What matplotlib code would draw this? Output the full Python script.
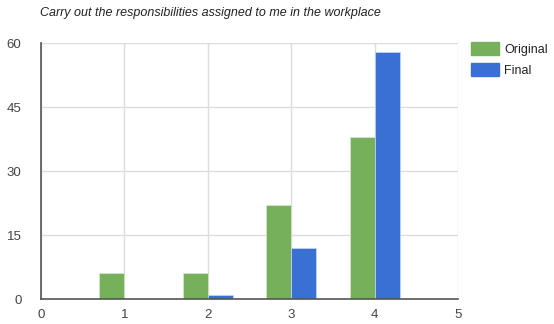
import numpy as np
import matplotlib.pyplot as plt
from matplotlib.patches import Patch

plt.rcParams['font.family'] = ['Liberation Sans', 'DejaVu Sans']

# Данные
ratings = [1, 2, 3, 4]
original = [6, 6, 22, 38]
final = [0, 1, 12, 58]
title = 'Carry out the responsibilities assigned to me in the workplace'

green = '#77b05a'
blue = '#3a70d4'

fig = plt.figure(figsize=(5.54, 3.24), dpi=100)
ax = fig.add_axes([0.074, 0.077, 0.753, 0.79])

x = np.array(ratings)
w = 0.3
ax.bar(x - w / 2, original, width=w, color=green, edgecolor='#d8ead0', linewidth=0.5, zorder=3)
ax.bar(x + w / 2, final, width=w, color=blue, edgecolor='#c8d8f4', linewidth=0.5, zorder=3)

ax.set_xlim(0, 5)
ax.set_ylim(0, 60)
ax.set_xticks([0, 1, 2, 3, 4, 5])
ax.set_yticks([0, 15, 30, 45, 60])
ax.grid(True, color='#dcdcdc', linewidth=1, zorder=0)
for s in ['top', 'right']:
    ax.spines[s].set_visible(False)
for s in ['left', 'bottom']:
    ax.spines[s].set_color('#555555')
    ax.spines[s].set_linewidth(1.2)
    ax.spines[s].set_zorder(4)
ax.tick_params(length=0, labelsize=9.5, colors='#444444', pad=7)
ax.tick_params(axis='y', pad=14)

fig.text(0.072, 0.96, title, fontsize=9, style='italic', color='#222222', va='center')

handles = [Patch(color=green, label='Original'), Patch(color=blue, label='Final')]
fig.legend(handles=handles, loc='upper left', bbox_to_anchor=(0.842, 0.885), frameon=False,
           fontsize=9, handlelength=2.2, handleheight=1.2, handletextpad=0.4,
           labelspacing=0.6, labelcolor='#222222', borderaxespad=0)

fig.savefig('out.png', dpi=100)
